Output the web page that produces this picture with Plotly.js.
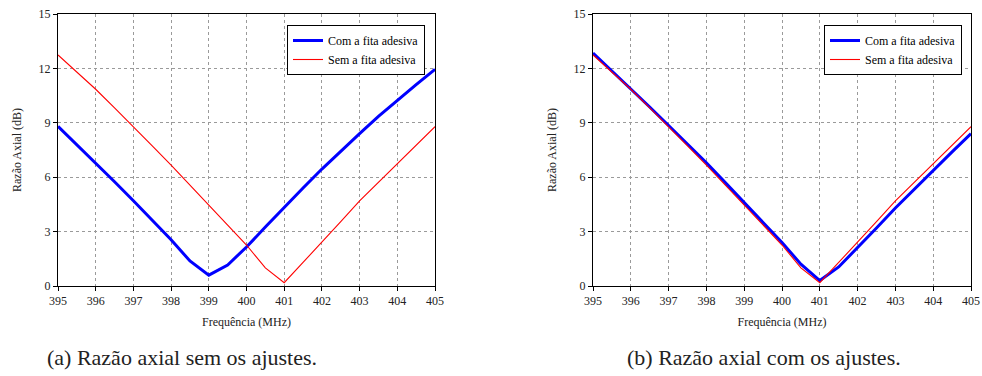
<!DOCTYPE html>
<html>
<head>
<meta charset="utf-8">
<script src="https://cdn.plot.ly/plotly-3.0.1.min.js"></script>
<style>html,body{margin:0;padding:0;background:#fff}#chart{width:982px;height:376px}</style>
</head>
<body>
<div id="chart"></div>
<script>
// Frequency axis (MHz)
const freq = [395,395.5,396,396.5,397,397.5,398,398.5,399,399.5,400,400.5,401,401.5,402,402.5,403,403.5,404,404.5,405];
// (a) without adjustments
const comA = [8.8,7.8,6.8,5.75,4.7,3.65,2.55,1.38,0.6,1.16,2.15,3.25,4.35,5.4,6.45,7.45,8.4,9.35,10.25,11.1,11.95];
const semA = [12.74,11.8,10.85,9.82,8.79,7.73,6.67,5.57,4.47,3.37,2.26,1.0,0.18,1.3,2.4,3.55,4.69,5.72,6.76,7.78,8.79];
// (b) with adjustments
const comB = [12.85,11.87,10.9,9.87,8.85,7.83,6.8,5.7,4.6,3.5,2.4,1.2,0.3,1.05,2.1,3.2,4.3,5.35,6.4,7.4,8.4];
const semB = [12.74,11.8,10.85,9.82,8.79,7.73,6.67,5.57,4.47,3.37,2.26,1.0,0.18,1.3,2.4,3.55,4.69,5.72,6.76,7.78,8.79];
const xTicks = [395,396,397,398,399,400,401,402,403,404,405];
const yTicks = [0,3,6,9,12,15];
const seriesNames = ['Com a fita adesiva','Sem a fita adesiva'];
const captions = ['(a) Razão axial sem os ajustes.','(b) Razão axial com os ajustes.'];

const W = 982, H = 376;
const px = v => v / W;
const py = v => 1 - v / H;
const font = 'Liberation Serif';

const traces = [
  {x: freq, y: comA, name: seriesNames[0], mode: 'lines', line: {color: '#0000ff', width: 3}, xaxis: 'x', yaxis: 'y', legend: 'legend'},
  {x: freq, y: semA, name: seriesNames[1], mode: 'lines', line: {color: '#ff0000', width: 1.1}, xaxis: 'x', yaxis: 'y', legend: 'legend'},
  {x: freq, y: comB, name: seriesNames[0], mode: 'lines', line: {color: '#0000ff', width: 3}, xaxis: 'x2', yaxis: 'y2', legend: 'legend2'},
  {x: freq, y: semB, name: seriesNames[1], mode: 'lines', line: {color: '#ff0000', width: 1.1}, xaxis: 'x2', yaxis: 'y2', legend: 'legend2'}
];

function xa(dom, anchor) {
  return {
    domain: dom, anchor: anchor, range: [395, 405], tickvals: xTicks, ticktext: xTicks.map(String),
    showline: true, linecolor: '#000', linewidth: 1, mirror: true,
    ticks: 'outside', ticklen: 4, tickcolor: '#000',
    showgrid: true, gridcolor: '#9a9a9a', griddash: 'dot', gridwidth: 1, zeroline: false,
    tickfont: {family: font, size: 12, color: '#222'},
    title: {text: 'Frequência (MHz)', font: {family: font, size: 12, color: '#222'}, standoff: 10}
  };
}
function ya(anchor) {
  return {
    domain: [py(286), py(14)], anchor: anchor, range: [0, 15], tickvals: yTicks, ticktext: yTicks.map(String),
    showline: true, linecolor: '#000', linewidth: 1, mirror: true,
    ticks: 'outside', ticklen: 4, tickcolor: '#000',
    showgrid: true, gridcolor: '#9a9a9a', griddash: 'dot', gridwidth: 1, zeroline: false,
    tickfont: {family: font, size: 12, color: '#222'},
    title: {text: 'Razão Axial (dB)', font: {family: font, size: 12, color: '#222'}, standoff: 14}
  };
}
function leg(xr) {
  return {
    x: px(xr), y: py(25), xanchor: 'right', yanchor: 'top',
    bgcolor: '#fff', bordercolor: '#000', borderwidth: 1,
    font: {family: font, size: 12, color: '#000'},
    itemwidth: 30, tracegroupgap: 0
  };
}

const layout = {
  width: W, height: H,
  margin: {l: 0, r: 0, t: 0, b: 0},
  paper_bgcolor: '#fff', plot_bgcolor: '#fff',
  showlegend: true,
  xaxis: xa([px(58), px(435)], 'y'),
  yaxis: ya('x'),
  xaxis2: xa([px(593), px(971)], 'y2'),
  yaxis2: ya('x2'),
  legend: leg(425),
  legend2: leg(962),
  annotations: [
    {text: captions[0], x: px(182), y: py(357), xref: 'paper', yref: 'paper', xanchor: 'center', yanchor: 'middle', showarrow: false, font: {family: font, size: 22, color: '#222'}},
    {text: captions[1], x: px(764), y: py(357), xref: 'paper', yref: 'paper', xanchor: 'center', yanchor: 'middle', showarrow: false, font: {family: font, size: 22, color: '#222'}}
  ]
};

Plotly.newPlot('chart', traces, layout, {displayModeBar: false, staticPlot: true});
</script>
</body>
</html>
